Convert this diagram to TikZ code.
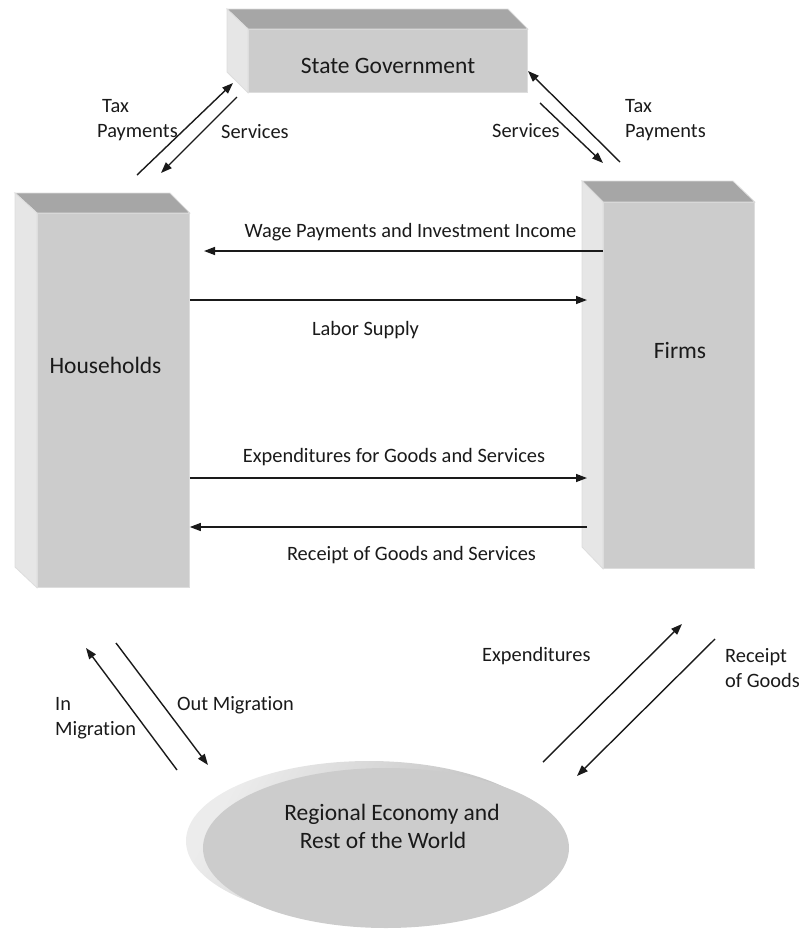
\documentclass[tikz,border=0pt]{standalone}
\usepackage{fontspec}
\setmainfont{Carlito}[Ligatures={NoCommon}]
\usetikzlibrary{arrows.meta,shapes.geometric}
\definecolor{facefront}{HTML}{CCCCCC}
\definecolor{facetop}{HTML}{A6A6A6}
\definecolor{faceside}{HTML}{E6E6E6}
\definecolor{faceedge}{HTML}{DDDDDD}
\definecolor{ink}{HTML}{1A1A1A}
\tikzset{
  front/.style={rectangle, fill=facefront, draw=faceedge, line width=0.8pt, inner sep=0pt},
  topface/.style={fill=facetop, draw=faceedge, line width=0.8pt},
  sideface/.style={fill=faceside, draw=faceedge, line width=0.8pt},
  boxlabel/.style={font=\fontsize{23.5}{28}\selectfont, text=ink, inner sep=0pt},
  flowlabel/.style={font=\fontsize{20.4}{25}\selectfont, text=ink, inner sep=0pt, align=left},
  flow/.style={draw=ink, line width=1.4pt, -{Triangle[length=11pt,width=8pt]}},
}
\begin{document}
\begin{tikzpicture}[x=1pt,y=-1pt]
\useasboundingbox (0,0) rectangle (801,932);

% ---- State Government block ----
\node[front, minimum width=279pt, minimum height=63pt, anchor=north west] (gov) at (248,29) {};
\fill[topface] (gov.north west) -- ++(-21,-20) -- ++(281,0) -- (gov.north east) -- cycle;
\fill[sideface] (gov.north west) -- ++(-21,-20) -- ++(0,63) -- (gov.south west) -- cycle;
\node[boxlabel] (govtext) at (388,66) {State Government};

% ---- Households block ----
\node[front, minimum width=152pt, minimum height=374pt, anchor=north west] (hh) at (37,213) {};
\fill[topface] (hh.north west) -- ++(-22,-20) -- ++(155,0) -- (hh.north east) -- cycle;
\fill[sideface] (hh.north west) -- ++(-22,-20) -- ++(0,374) -- (hh.south west) -- cycle;
\node[boxlabel] (hhtext) at (105.5,365) {Households};

% ---- Firms block ----
\node[front, minimum width=151pt, minimum height=366pt, anchor=north west] (firms) at (603,202) {};
\fill[topface] (firms.north west) -- ++(-21,-21) -- ++(151,0) -- (firms.north east) -- cycle;
\fill[sideface] (firms.north west) -- ++(-21,-21) -- ++(0,366) -- (firms.south west) -- cycle;
\node[boxlabel] (firmstext) at (680,350) {Firms};

% ---- Regional economy disc: shaded rim behind a flat face ----
\shade[left color=gray!15, right color=gray!55, shading angle=60]
  (369,841) ellipse [x radius=183pt, y radius=80pt];
\node[ellipse, fill=facefront, inner sep=0pt, minimum width=366pt, minimum height=160pt] (reg) at (386,848) {};
\node[boxlabel, align=center] (regtext) at (392,826) {Regional Economy and\\Rest of the World\hspace*{18pt}};

% ---- connector end points ----
\coordinate (taxL1) at (137,175);  \coordinate (taxL2) at (233,83);
\coordinate (serL1) at (237,97);   \coordinate (serL2) at (161,173);
\coordinate (serR1) at (540,103);  \coordinate (serR2) at (603,163);
\coordinate (taxR1) at (620,162);  \coordinate (taxR2) at (528,71);
\coordinate (inM1)  at (177,770);  \coordinate (inM2)  at (86,648);
\coordinate (outM1) at (116,643);  \coordinate (outM2) at (208,765);
\coordinate (expR1) at (543,762);  \coordinate (expR2) at (682,624);
\coordinate (recR1) at (715,639);  \coordinate (recR2) at (577,776);

% ---- flows with the government ----
\draw[flow] (taxL1) -- (taxL2);
\draw[flow] (serL1) -- (serL2);
\draw[flow] (serR1) -- (serR2);
\draw[flow] (taxR1) -- (taxR2);
\node[flowlabel, anchor=west] (taxLtext) at (97,120) {\hspace*{5pt}Tax\\Payments};
\node[flowlabel, anchor=west] (serLtext) at (221,132) {Services};
\node[flowlabel, anchor=west] (serRtext) at (492,131) {Services};
\node[flowlabel, anchor=west] (taxRtext) at (625,120) {Tax\\Payments};

% ---- flows between households and firms ----
\draw[flow] (firms.west |- 0,251) -- (204,251);
\draw[flow] (hh.east |- 0,300) -- (587,300);
\draw[flow] (hh.east |- 0,478) -- (587,478);
\draw[flow] (587,527) -- (hh.east |- 0,527);
\node[flowlabel] (wagetext) at (410.5,232) {Wage Payments and Investment Income};
\node[flowlabel] (labortext) at (365.5,330) {Labor Supply};
\node[flowlabel] (expgtext) at (394,457) {Expenditures for Goods and Services};
\node[flowlabel] (recgtext) at (411.5,555) {Receipt of Goods and Services};

% ---- flows with the regional economy ----
\draw[flow] (inM1) -- (inM2);
\draw[flow] (outM1) -- (outM2);
\draw[flow] (expR1) -- (expR2);
\draw[flow] (recR1) -- (recR2);
\node[flowlabel, anchor=west] (intext) at (55,718) {In\\Migration};
\node[flowlabel, anchor=west] (outtext) at (177,705) {Out Migration};
\node[flowlabel, anchor=west] (exptext) at (482,656) {Expenditures};
\node[flowlabel, anchor=west] (rectext) at (725,668) {Receipt\\of Goods};
\end{tikzpicture}
\end{document}
